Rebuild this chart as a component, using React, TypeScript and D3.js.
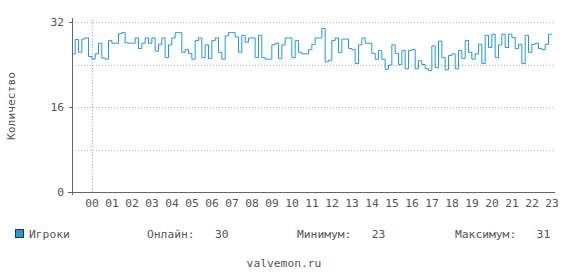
import React from "react";
import * as d3 from "d3";

const hourLabels = ["00","01","02","03","04","05","06","07","08","09","10","11","12","13","14","15","16","17","18","19","20","21","22","23"];
const yTickValues = [0, 16, 32];
const yGridValues = [8, 16, 24, 32];
// players per 10-minute interval, first interval starts 59 minutes before 00:00
const startMinute = -59;
const stepMinutes = 10;
const players = [
  26, 28.7, 26.3, 28.8, 29, 25.5,
  25, 26, 28, 25.2, 25, 28.5, 28, 28, 29.8, 30, 28.1, 28, 28, 29, 27, 28, 29, 28, 29, 26.5,
  27.8, 29, 25.3, 27.7, 29, 30, 30, 26.3, 26.8, 26.1, 25, 28.5, 29, 25.3, 27.7, 25.1, 28.5, 29,
  26.3, 25, 29.4, 30, 30, 29.2, 26.3, 29.5, 28.2, 29, 29, 25.3, 29.5, 25.3, 25, 25, 27.7, 28,
  25.1, 27.7, 29, 29, 25.3, 28.5, 26.3, 26, 26, 26.8, 27.8, 29, 29, 30.8, 24.5, 24.8, 28.5, 29,
  26.3, 28.8, 28.8, 27, 26.8, 24.2, 27.7, 29, 28, 28, 26.1, 25, 26.6, 25, 23.1, 23.9, 27.7, 26.1,
  24, 26.6, 23.2, 26.6, 26.8, 23.2, 24.7, 24, 23.2, 22.9, 27.5, 23.4, 28.4, 25.3, 23, 25.7, 26, 23.2,
  26.6, 25.1, 28.5, 26.3, 25, 26, 27.8, 24.2, 29.5, 27.2, 29.7, 25.3, 27.7, 29.7, 27.2, 29.7, 29.1, 27,
  27.8, 24.2, 29.5, 26.3, 27.8, 28, 27, 26.8, 27.8, 29.7,
];
const seriesName = "Игроки";
const statLabels = ["Онлайн:", "Минимум:", "Максимум:"];
const statValues = ["30", "23", "31"];
const yTitle = "Количество";
const footer = "valvemon.ru";

const W = 568;
const H = 278;
const left = 72;
const right = 555;
const top = 22;
const bottom = 192;
const font = "'DejaVu Sans Mono', monospace";
const textColor = "#555";
const lineColor = "#1e9cd8";
const gridColor = "#b4b4b4";

export default function App() {
  const x = d3.scaleLinear().domain([-0.975, 23.175]).range([left, right]);
  const y = d3.scaleLinear().domain([0, 32]).range([bottom, top]);

  const pts: [number, number][] = players.map((v, i) => [
    (startMinute + i * stepMinutes) / 60,
    v,
  ]);
  pts.push([(startMinute + players.length * stepMinutes) / 60, players[players.length - 1]]);

  const line = d3
    .line<[number, number]>()
    .x((d) => Math.max(left, x(d[0])))
    .y((d) => y(d[1]))
    .curve(d3.curveStepAfter);

  const statX = [147, 297, 455];
  const statGap = [3, 3, 3];

  return (
    <svg
      width={W}
      height={H}
      style={{ position: "absolute", left: 0, top: 0, background: "#fff" }}
    >
      <rect x={0} y={0} width={W} height={H} fill="#fff" />
      {yGridValues.map((v) => (
        <line
          key={"g" + v}
          x1={left}
          x2={right}
          y1={Math.round(y(v)) + 0.5}
          y2={Math.round(y(v)) + 0.5}
          stroke={gridColor}
          strokeDasharray="1,2"
        />
      ))}
      <line
        x1={Math.round(x(0)) + 0.5}
        x2={Math.round(x(0)) + 0.5}
        y1={top - 2}
        y2={bottom}
        stroke={gridColor}
        strokeDasharray="1,2"
      />
      <path d={line(pts) || ""} fill="none" stroke={lineColor} strokeWidth={1} />
      <line x1={left + 0.5} x2={left + 0.5} y1={top - 4} y2={bottom + 3} stroke="#666" />
      <line x1={left - 4} x2={right} y1={bottom + 0.5} y2={bottom + 0.5} stroke="#666" />
      {yTickValues.map((v) => (
        <g key={"t" + v}>
          <line
            x1={left - 3}
            x2={left}
            y1={Math.round(y(v)) + 0.5}
            y2={Math.round(y(v)) + 0.5}
            stroke="#666"
          />
          <text
            x={left - 8}
            y={y(v) + 4}
            textAnchor="end"
            fontFamily={font}
            fontSize={11.3}
            fill={textColor}
          >
            {v}
          </text>
        </g>
      ))}
      {hourLabels.map((h, i) => (
        <text
          key={h}
          x={x(i) + 0.5}
          y={207}
          textAnchor="middle"
          fontFamily={font}
          fontSize={11.3}
          fill={textColor}
        >
          {h}
        </text>
      ))}
      <text
        transform={`translate(15,${(top + bottom) / 2 - 1}) rotate(-90)`}
        textAnchor="middle"
        fontFamily={font}
        fontSize={11.3}
        fill={textColor}
      >
        {yTitle}
      </text>
      <rect x={15.5} y={229.5} width={8} height={8} fill={lineColor} stroke="#333" />
      <text x={29} y={238} fontFamily={font} fontSize={11.3} fill={textColor}>
        {seriesName}
      </text>
      {statLabels.map((l, i) => (
        <text
          key={l}
          x={statX[i]}
          y={238}
          fontFamily={font}
          fontSize={11.3}
          fill={textColor}
          style={{ whiteSpace: "pre" }}
        >
          {l + " ".repeat(statGap[i]) + statValues[i]}
        </text>
      ))}
      <text
        x={W / 2}
        y={267}
        textAnchor="middle"
        fontFamily={font}
        fontSize={11.3}
        fill={textColor}
      >
        {footer}
      </text>
    </svg>
  );
}
